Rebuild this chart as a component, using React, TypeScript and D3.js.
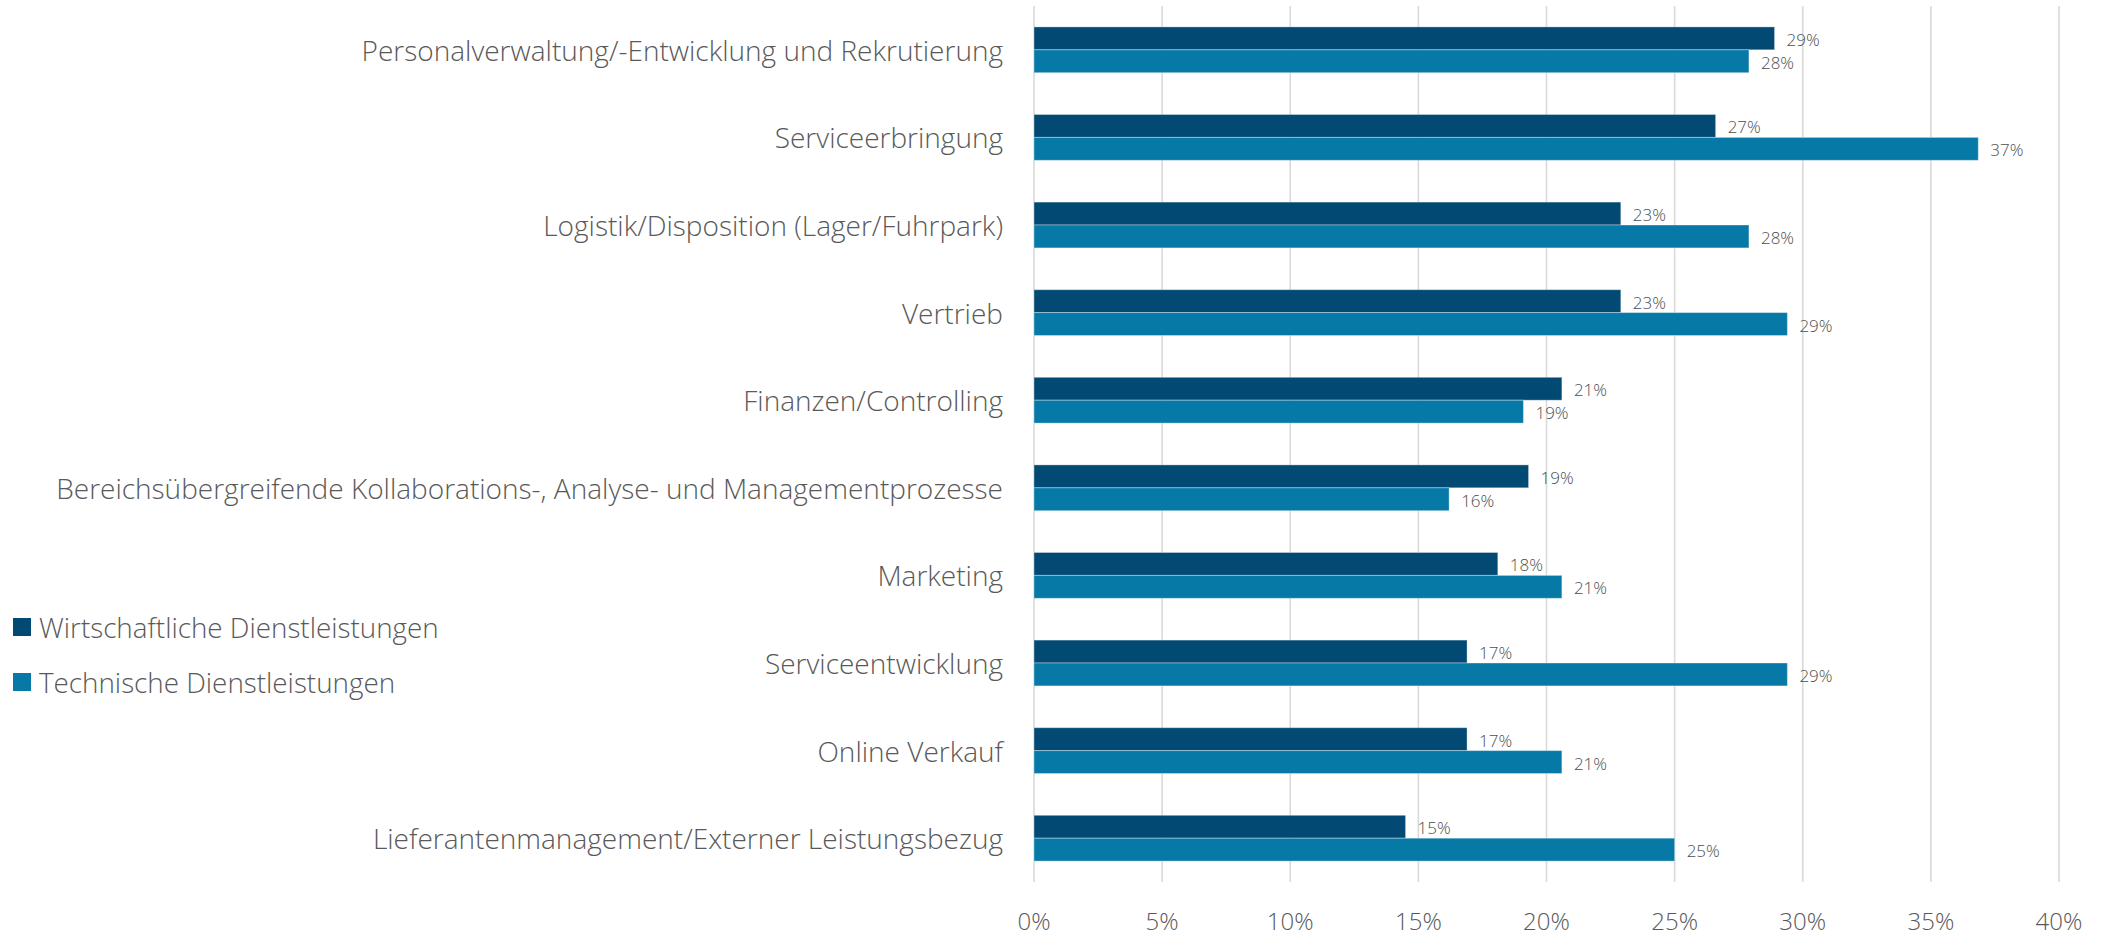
import React from "react";
import * as d3 from "d3";

const categories = [
  "Personalverwaltung/-Entwicklung und Rekrutierung",
  "Serviceerbringung",
  "Logistik/Disposition (Lager/Fuhrpark)",
  "Vertrieb",
  "Finanzen/Controlling",
  "Bereichsübergreifende Kollaborations-, Analyse- und Managementprozesse",
  "Marketing",
  "Serviceentwicklung",
  "Online Verkauf",
  "Lieferantenmanagement/Externer Leistungsbezug",
];
const seriesNames = ["Wirtschaftliche Dienstleistungen", "Technische Dienstleistungen"];
const wirtschaftlich = [28.9, 26.6, 22.9, 22.9, 20.6, 19.3, 18.1, 16.9, 16.9, 14.5];
const technisch = [27.9, 36.85, 27.9, 29.4, 19.1, 16.2, 20.6, 29.4, 20.6, 25.0];
const xTicks = [0, 5, 10, 15, 20, 25, 30, 35, 40];

const colors = ["#024A74", "#0779A6"];
const textColor = "#595959";
const font = "'Open Sans', 'Segoe UI', sans-serif";

export default function App() {
  const W = 2109;
  const H = 935;
  const x = d3.scaleLinear().domain([0, 40]).range([1034, 2059]);
  const y = d3
    .scaleBand<string>()
    .domain(categories)
    .range([6, 882])
    .paddingInner(0.477)
    .paddingOuter(0.2385);
  const sub = d3
    .scaleBand<number>()
    .domain([0, 1])
    .range([0, y.bandwidth()]);
  const series = [wirtschaftlich, technisch];

  return (
    <svg
      width={W}
      height={H}
      style={{ position: "absolute", left: 0, top: 0, background: "#fff" }}
      fontFamily={font}
    >
      {xTicks.map((t) => (
        <g key={t}>
          <line x1={x(t)} x2={x(t)} y1={6} y2={882} stroke="#d9d9d9" strokeWidth={1.6} />
          <text
            x={x(t)}
            y={920}
            textAnchor="middle"
            dominantBaseline="central"
            fontSize={24}
            fontWeight={300}
            fill={textColor}
          >
            {t}%
          </text>
        </g>
      ))}
      {categories.map((c, i) => (
        <g key={c}>
          <text
            x={1003}
            y={(y(c) as number) + y.bandwidth() / 2}
            textAnchor="end"
            dominantBaseline="central"
            fontSize={28}
            fontWeight={300}
            fill={textColor}
          >
            {c}
          </text>
          {series.map((s, k) => {
            const yy = (y(c) as number) + (sub(k) as number);
            return (
              <g key={k}>
                <rect
                  x={x(0)}
                  y={yy}
                  width={x(s[i]) - x(0)}
                  height={sub.bandwidth()}
                  fill={colors[k]}
                  stroke="#ffffff"
                  strokeOpacity={0.35}
                  strokeWidth={1}
                />
                <text
                  x={x(s[i]) + 12}
                  y={yy + sub.bandwidth() / 2 + 1}
                  dominantBaseline="central"
                  fontSize={17}
                  fontWeight={300}
                  fill="#4d4d4d"
                >
                  {Math.round(s[i])}%
                </text>
              </g>
            );
          })}
        </g>
      ))}
      {seriesNames.map((n, k) => (
        <g key={n}>
          <rect x={13} y={618 + k * 55} width={18} height={18} fill={colors[k]} />
          <text
            x={39}
            y={627 + k * 55}
            dominantBaseline="central"
            fontSize={27.8}
            fontWeight={300}
            fill={textColor}
          >
            {n}
          </text>
        </g>
      ))}
    </svg>
  );
}
